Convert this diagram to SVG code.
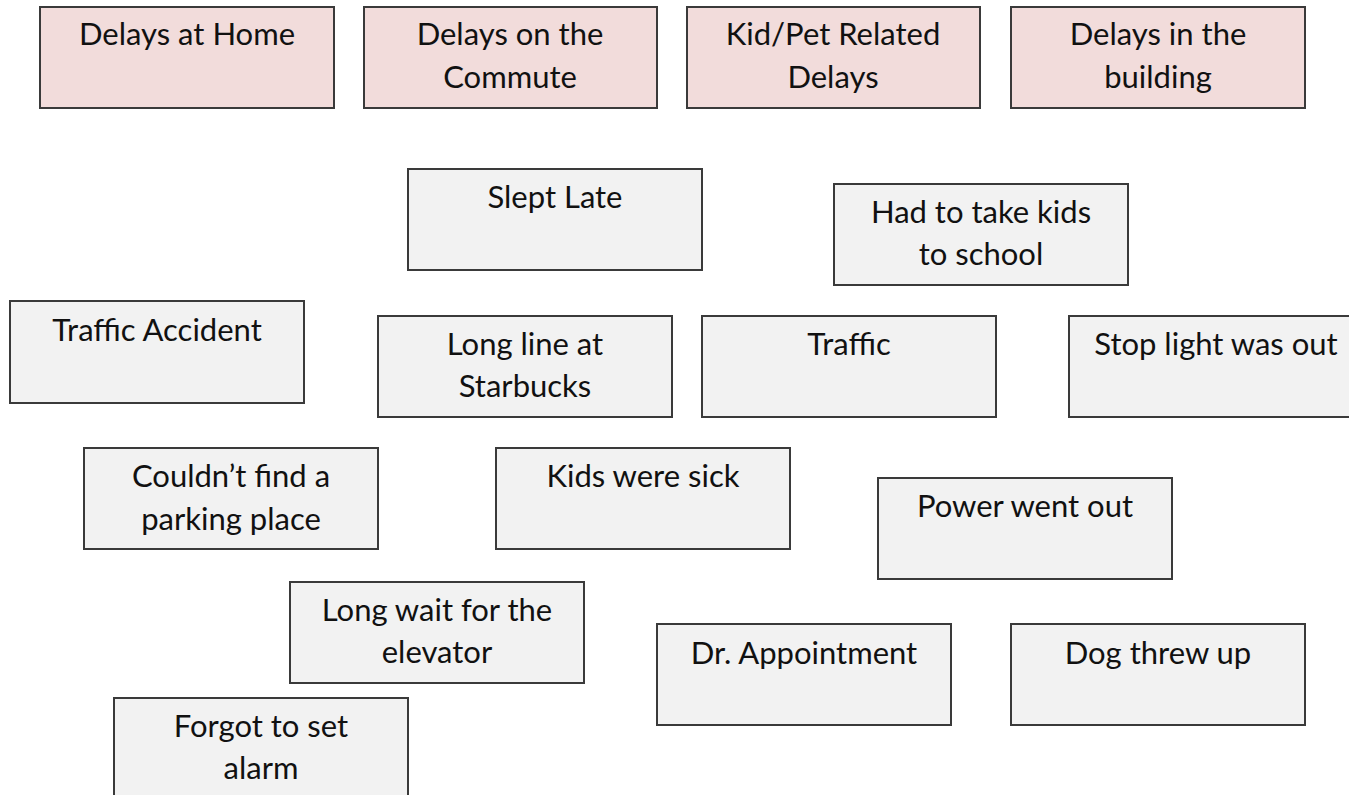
<svg xmlns="http://www.w3.org/2000/svg" width="1349" height="795" viewBox="0 0 1349 795">
  <style>
    .box { stroke: #3a3a3a; stroke-width: 2; }
    .cat { fill: #f2dcdb; }
    .item { fill: #f2f2f2; }
    text { font-family: Lato, "Open Sans", "Liberation Sans", sans-serif; font-size: 31px; fill: #111; text-anchor: middle; }
  </style>
  <rect width="1349" height="795" fill="#ffffff"/>

  <!-- category headers -->
  <g id="cat-home"><rect class="box cat" x="40" y="7" width="294" height="101"/><text x="187" y="45">Delays at Home</text></g>
  <g id="cat-commute"><rect class="box cat" x="364" y="7" width="293" height="101"/><text x="510" y="45">Delays on the</text><text x="510" y="88">Commute</text></g>
  <g id="cat-kidpet"><rect class="box cat" x="687" y="7" width="293" height="101"/><text x="833" y="45">Kid/Pet Related</text><text x="833" y="88">Delays</text></g>
  <g id="cat-building"><rect class="box cat" x="1011" y="7" width="294" height="101"/><text x="1158" y="45">Delays in the</text><text x="1158" y="88">building</text></g>

  <!-- delay causes -->
  <g id="slept-late"><rect class="box item" x="408" y="169" width="294" height="101"/><text x="555" y="208">Slept Late</text></g>
  <g id="kids-school"><rect class="box item" x="834" y="184" width="294" height="101"/><text x="981" y="223">Had to take kids</text><text x="981" y="265">to school</text></g>
  <g id="traffic-accident"><rect class="box item" x="10" y="301" width="294" height="102"/><text x="157" y="341">Traffic Accident</text></g>
  <g id="starbucks"><rect class="box item" x="378" y="316" width="294" height="101"/><text x="525" y="355">Long line at</text><text x="525" y="397">Starbucks</text></g>
  <g id="traffic"><rect class="box item" x="702" y="316" width="294" height="101"/><text x="849" y="355">Traffic</text></g>
  <g id="stop-light"><rect class="box item" x="1069" y="316" width="294" height="101"/><text x="1216" y="355">Stop light was out</text></g>
  <g id="parking"><rect class="box item" x="84" y="448" width="294" height="101"/><text x="231" y="487">Couldn’t find a</text><text x="231" y="530">parking place</text></g>
  <g id="kids-sick"><rect class="box item" x="496" y="448" width="294" height="101"/><text x="643" y="487">Kids were sick</text></g>
  <g id="power-out"><rect class="box item" x="878" y="478" width="294" height="101"/><text x="1025" y="517">Power went out</text></g>
  <g id="elevator"><rect class="box item" x="290" y="582" width="294" height="101"/><text x="437" y="621">Long wait for the</text><text x="437" y="663">elevator</text></g>
  <g id="dr-appointment"><rect class="box item" x="657" y="624" width="294" height="101"/><text x="804" y="664">Dr. Appointment</text></g>
  <g id="dog"><rect class="box item" x="1011" y="624" width="294" height="101"/><text x="1158" y="664">Dog threw up</text></g>
  <g id="alarm"><rect class="box item" x="114" y="698" width="294" height="110"/><text x="261" y="737">Forgot to set</text><text x="261" y="779">alarm</text></g>

  <g id="connectors"/>
</svg>
